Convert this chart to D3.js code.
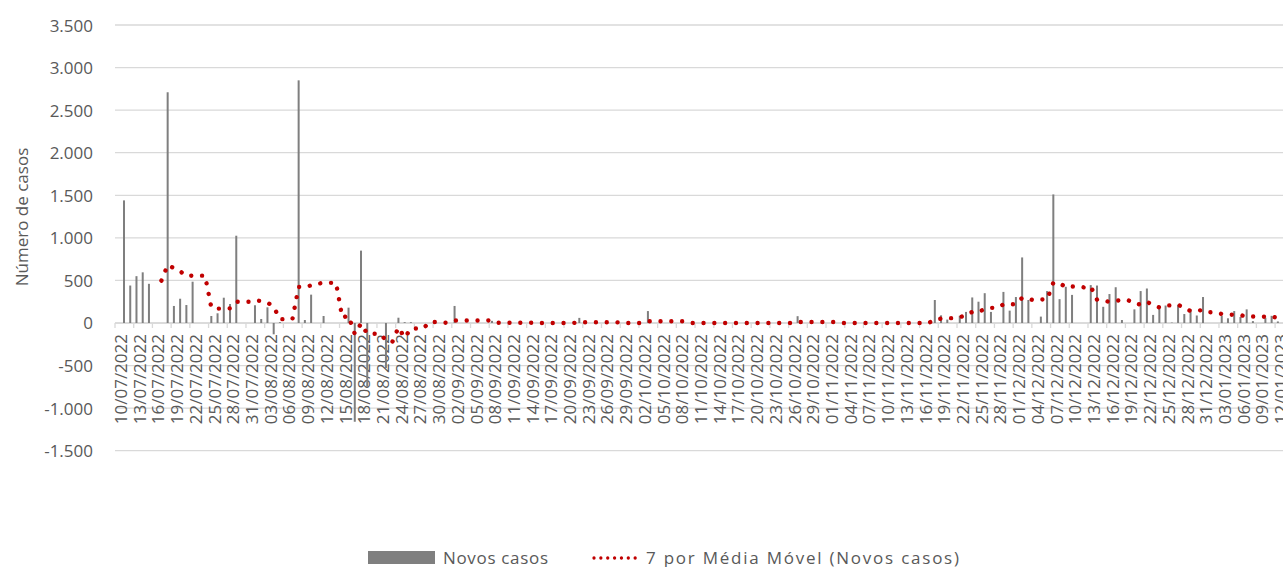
<!DOCTYPE html>
<html>
<head>
<meta charset="utf-8">
<script src="https://cdn.jsdelivr.net/npm/d3@7"></script>
<style>
  html, body { margin: 0; padding: 0; background: #fff; }
  svg { display: block; }
  text { font-family: "Open Sans", "Liberation Sans", sans-serif; fill: #595959; }
</style>
</head>
<body>
<svg id="chart" width="1283" height="567"></svg>
<script>
// ---- Data ----
const startDate = "2022-07-10";
const endDate = "2023-01-12";
// Daily new cases, one value per day starting 10/07/2022
const novosCasos = [
  1440, 440, 550, 595, 460, 0, 0, 2710, 200, 285,      // 10/07 - 19/07
  211, 485, 0, 0, 82, 114, 297, 223, 1025, 0,          // 20/07 - 29/07
  0, 208, 47, 184, -133, 10, 0, 0, 2850, 35,           // 30/07 - 08/08
  333, 0, 82, 0, 0, 0, 180, -1160, 850, -750,          // 09/08 - 18/08
  0, 0, -530, 0, 62, 10, 10, 0, 0, 0,                  // 19/08 - 28/08
  0, 0, 0, 200, 0, 0, 0, 0, 0, 25,                     // 29/08 - 07/09
  0, 0, 0, 0, 0, 0, 0, 0, 0, 0,                        // 08/09 - 17/09
  0, 0, 0, 60, 0, 0, 0, 0, 0, 0,                       // 18/09 - 27/09
  0, 0, 0, 0, 140, 0, 0, 0, 0, 0,                      // 28/09 - 07/10
  0, 0, 0, 0, 0, 0, 0, 0, 0, 0,                        // 08/10 - 17/10
  0, 0, 0, 0, 0, 0, 0, 0, 80, 0,                       // 18/10 - 27/10
  0, 0, 0, 0, 0, 0, 0, 0, 0, 0,                        // 28/10 - 06/11
  0, 0, 0, 0, 0, 0, 0, 0, 0, 0,                        // 07/11 - 16/11
  270, 90, 40, 0, 85, 130, 300, 250, 350, 130,         // 17/11 - 26/11
  0, 365, 145, 305, 770, 270, 0, 75, 375, 1510,        // 27/11 - 06/12
  280, 425, 330, 0, 0, 445, 440, 190, 340, 420,        // 07/12 - 16/12
  35, 0, 160, 375, 405, 95, 205, 205, 5, 215,          // 17/12 - 26/12
  105, 160, 88, 305, 0, 0, 84, 55, 140, 70,            // 27/12 - 05/01
  160, 22, 0, 62, 84, 18                               // 06/01 - 11/01
];
const maPeriod = 7;
const yTicks = [-1500, -1000, -500, 0, 500, 1000, 1500, 2000, 2500, 3000, 3500];
const labelStepDays = 3;
const seriesNames = ["Novos casos", "7 por Média Móvel (Novos casos)"];
const yTitle = "Número de casos";

// ---- Setup ----
const svg = d3.select("#chart");
const W = 1283, H = 567;
svg.append("rect").attr("width", W).attr("height", H).attr("fill", "#fff");

const parse = d3.timeParse("%Y-%m-%d");
const d0 = parse(startDate), d1 = parse(endDate);
const allDays = d3.timeDay.range(d0, d3.timeDay.offset(d1, 1));
const fmtDate = d3.timeFormat("%d/%m/%Y");

const x = d3.scaleTime().domain([d0, d1]).range([124, 1284.1]);
const dayW = (1284.1 - 124) / (allDays.length - 1);
const y = d3.scaleLinear().domain([-1500, 3500]).range([450.7, 25]);

const loc = d3.formatLocale({decimal: ",", thousands: ".", grouping: [3], currency: ["", ""], minus: "-"});
const fmtY = loc.format(",.0f");

const plotLeft = 115, plotRight = W;

// gridlines
svg.append("g").selectAll("line").data(yTicks).join("line")
  .attr("x1", plotLeft).attr("x2", plotRight)
  .attr("y1", d => y(d)).attr("y2", d => y(d))
  .attr("stroke", "#D9D9D9").attr("stroke-width", 1.3);

// y tick labels
svg.append("g").selectAll("text").data(yTicks).join("text")
  .attr("x", 93).attr("y", d => y(d))
  .attr("text-anchor", "end").attr("dominant-baseline", "central")
  .attr("font-size", 17)
  .text(d => fmtY(d));

// y title
svg.append("text")
  .attr("transform", `translate(21,217) rotate(-90)`)
  .attr("text-anchor", "middle").attr("dominant-baseline", "central")
  .attr("font-size", 17)
  .text(yTitle);

// x axis labels (every 3 days)
const labelDays = allDays.filter((d, i) => i % labelStepDays === 0);
const xAxisG = svg.append("g");
xAxisG.selectAll("text").data(labelDays).join("text")
  .attr("transform", d => `translate(${x(d) - 3.5},334) rotate(-90)`)
  .attr("text-anchor", "end").attr("dominant-baseline", "central")
  .attr("font-size", 17)
  .text(d => fmtDate(d));

// x axis line + ticks
svg.append("line")
  .attr("x1", plotLeft).attr("x2", plotRight)
  .attr("y1", y(0)).attr("y2", y(0))
  .attr("stroke", "#D9D9D9").attr("stroke-width", 1.3);
svg.append("g").selectAll("line").data(labelDays).join("line")
  .attr("x1", d => x(d) - 9 * dayW / 6.237).attr("x2", d => x(d) - 9 * dayW / 6.237)
  .attr("y1", y(0)).attr("y2", y(0) + 5)
  .attr("stroke", "#D9D9D9").attr("stroke-width", 1.3);

// bars
const barData = novosCasos.map((v, i) => ({date: allDays[i], v}));
svg.append("g").selectAll("rect").data(barData.filter(d => d.v !== 0)).join("rect")
  .attr("x", d => x(d.date) - 1)
  .attr("width", 2)
  .attr("y", d => y(Math.max(0, d.v)))
  .attr("height", d => Math.abs(y(d.v) - y(0)))
  .attr("fill", "#7F7F7F");

// moving average trendline (period 7)
const ma = [];
for (let i = maPeriod - 1; i < novosCasos.length; i++) {
  ma.push({date: allDays[i], v: d3.mean(novosCasos.slice(i - maPeriod + 1, i + 1))});
}
svg.append("path")
  .datum(ma)
  .attr("d", d3.line().x(d => x(d.date)).y(d => y(d.v)))
  .attr("fill", "none")
  .attr("stroke", "#C00000")
  .attr("stroke-width", 4.4)
  .attr("stroke-linecap", "round")
  .attr("stroke-dasharray", "0.01 10.8");

// legend
const lg = svg.append("g");
lg.append("rect").attr("x", 368).attr("y", 551).attr("width", 67).attr("height", 13).attr("fill", "#7F7F7F");
lg.append("text").attr("x", 443).attr("y", 557).attr("dominant-baseline", "central").attr("font-size", 17)
  .attr("textLength", 105).attr("lengthAdjust", "spacing").text(seriesNames[0]);
lg.append("line").attr("x1", 594).attr("x2", 642).attr("y1", 558).attr("y2", 558)
  .attr("stroke", "#C00000").attr("stroke-width", 3.3).attr("stroke-linecap", "round")
  .attr("stroke-dasharray", "0.01 6.85");
lg.append("text").attr("x", 646).attr("y", 557).attr("dominant-baseline", "central").attr("font-size", 17)
  .attr("textLength", 313).attr("lengthAdjust", "spacing").text(seriesNames[1]);
</script>
</body>
</html>
